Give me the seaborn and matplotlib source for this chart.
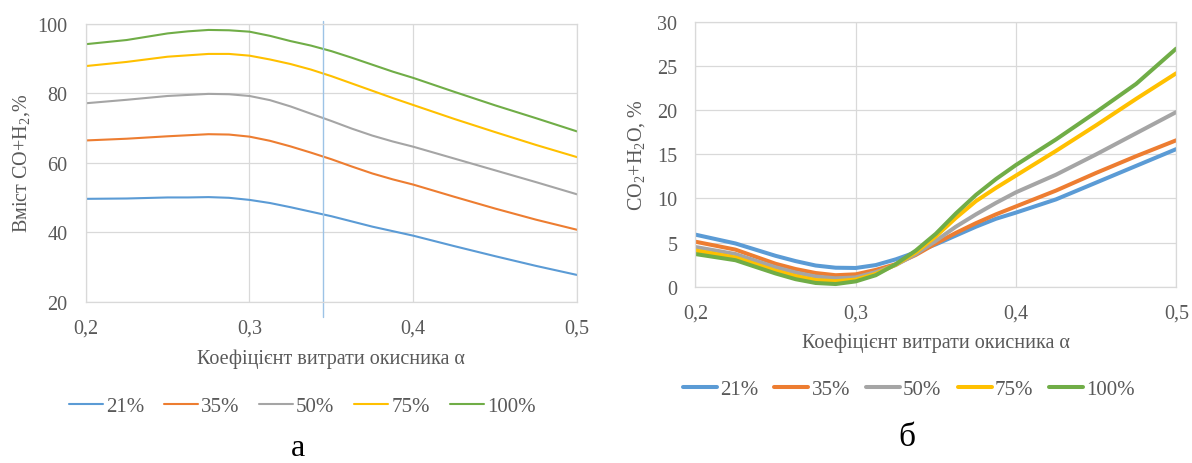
import matplotlib
matplotlib.use("Agg")
import matplotlib.pyplot as plt
import seaborn as sns
import pandas as pd
from matplotlib.lines import Line2D
from matplotlib.ticker import FuncFormatter

# oxidiser consumption coefficient
alpha = [0.2, 0.225, 0.25, 0.2625, 0.275, 0.2875, 0.3, 0.3125, 0.325, 0.3375,
         0.35, 0.3625, 0.375, 0.3875, 0.4, 0.425, 0.45, 0.475, 0.5]
concentrations = ["21%", "35%", "50%", "75%", "100%"]

# (a) CO+H2 content, %
syngas_21 = [49.6, 49.7, 50.0, 50.0, 50.1, 49.9, 49.3, 48.4, 47.2, 45.9,
             44.6, 43.1, 41.6, 40.3, 39.0, 36.0, 33.1, 30.3, 27.7]
syngas_35 = [66.4, 66.9, 67.6, 67.9, 68.2, 68.1, 67.5, 66.3, 64.7, 62.9,
             61.0, 58.9, 56.9, 55.2, 53.7, 50.2, 46.8, 43.6, 40.7]
syngas_50 = [77.1, 78.1, 79.2, 79.5, 79.8, 79.7, 79.2, 78.0, 76.2, 74.1,
             72.0, 69.8, 67.8, 66.1, 64.6, 61.2, 57.8, 54.4, 50.9]
syngas_75 = [87.8, 89.0, 90.5, 90.9, 91.3, 91.3, 90.8, 89.7, 88.4, 86.8,
             84.9, 82.8, 80.7, 78.6, 76.6, 72.6, 68.8, 65.1, 61.6]
syngas_100 = [94.1, 95.3, 97.2, 97.8, 98.2, 98.1, 97.7, 96.5, 95.0, 93.7,
              92.1, 90.2, 88.2, 86.2, 84.4, 80.4, 76.5, 72.8, 69.0]

# (б) CO2+H2O content, %
flue_21 = [5.9, 4.9, 3.5, 2.9, 2.4, 2.15, 2.12, 2.45, 3.1, 3.9,
           4.8, 5.8, 6.8, 7.7, 8.4, 9.9, 11.8, 13.7, 15.6]
flue_35 = [5.1, 4.2, 2.6, 2.0, 1.55, 1.3, 1.4, 1.9, 2.55, 3.6,
           4.9, 6.1, 7.2, 8.2, 9.1, 10.9, 12.9, 14.8, 16.6]
flue_50 = [4.5, 3.7, 2.2, 1.6, 1.15, 0.95, 1.05, 1.65, 2.45, 3.7,
           5.2, 6.8, 8.2, 9.5, 10.7, 12.7, 15.0, 17.4, 19.8]
flue_75 = [4.1, 3.3, 1.8, 1.2, 0.75, 0.62, 0.8, 1.45, 2.5, 3.9,
           5.7, 7.8, 9.7, 11.2, 12.6, 15.4, 18.3, 21.3, 24.2]
flue_100 = [3.7, 3.0, 1.5, 0.85, 0.42, 0.3, 0.6, 1.3, 2.55, 4.1,
            6.0, 8.3, 10.4, 12.2, 13.8, 16.7, 19.8, 23.0, 27.0]

alpha_marker = 0.345
colors = ["#5B9BD5", "#ED7D31", "#A5A5A5", "#FFC000", "#70AD47"]
palette = dict(zip(concentrations, colors))


def to_long(series):
    rows = []
    for conc, vals in zip(concentrations, series):
        for a, v in zip(alpha, vals):
            rows.append({"alpha": a, "value": v, "conc": conc})
    return pd.DataFrame(rows)


df_a = to_long([syngas_21, syngas_35, syngas_50, syngas_75, syngas_100])
df_b = to_long([flue_21, flue_35, flue_50, flue_75, flue_100])

sns.set_theme(style="whitegrid")
plt.rcParams["font.family"] = ["Liberation Serif", "DejaVu Serif"]
plt.rcParams["mathtext.default"] = "regular"
txt = "#595959"
grid = "#D9D9D9"

fig = plt.figure(figsize=(11.92, 4.64), dpi=100)
ax1 = fig.add_axes([0.0719, 0.3476, 0.4122, 0.5992])
ax2 = fig.add_axes([0.5834, 0.3800, 0.4034, 0.5702])

comma = FuncFormatter(lambda v, p: f"{v:.1f}".replace(".", ","))

for ax, df, lw, ylim, yticks in [
    (ax1, df_a, 1.5, (20, 100), [20, 40, 60, 80, 100]),
    (ax2, df_b, 2.9, (0, 30), [0, 5, 10, 15, 20, 25, 30]),
]:
    sns.lineplot(data=df, x="alpha", y="value", hue="conc", palette=palette,
                 linewidth=lw, estimator=None, legend=False, ax=ax)
    ax.set_xlim(0.2, 0.5)
    ax.set_ylim(*ylim)
    ax.set_xticks([0.2, 0.3, 0.4, 0.5])
    ax.set_yticks(yticks)
    ax.xaxis.set_major_formatter(comma)
    ax.grid(True, color=grid, linewidth=0.9)
    for s in ax.spines.values():
        s.set_color(grid)
        s.set_linewidth(0.9)
    ax.tick_params(length=0, labelsize=14.5, colors=txt)
    ax.tick_params(axis="y", pad=13)
    ax.tick_params(axis="x", pad=12)
    ax.set_xlabel("Коефіцієнт витрати окисника α", fontsize=14.5, color=txt)

ax1.set_ylabel("Вміст CO+$H_2$,%", fontsize=14.5, color=txt)
ax2.set_ylabel("CO$_2$+H$_2$O, %", fontsize=14.5, color=txt)
ax1.yaxis.set_label_coords(-0.110, 0.5)
ax2.yaxis.set_label_coords(-0.100, 0.5)
ax1.xaxis.set_label_coords(0.5, -0.167)
ax2.xaxis.set_label_coords(0.5, -0.175)

ax1.axvline(alpha_marker, ymin=-0.055, ymax=1.011, clip_on=False,
            color="#9DC3E6", linewidth=1.0)

for lw, cx, cy, cs in [(1.5, 302, 407, 0.95), (2.9, 909, 390, 0.77)]:
    handles = [Line2D([], [], color=c, linewidth=lw, solid_capstyle="round") for c in colors]
    leg = fig.legend(handles, concentrations, loc="center", ncol=5, frameon=False,
                     bbox_to_anchor=(cx / 1192, 1 - cy / 464), fontsize=15,
                     handlelength=1.63, handletextpad=0.15, columnspacing=cs)
    for t in leg.get_texts():
        t.set_color(txt)

fig.text(298 / 1192, 1 - 456.5 / 464, "а", fontsize=23, ha="center", va="baseline", color="black")
fig.text(907 / 1192, 1 - 438 / 464, "б", fontsize=24, ha="center", va="center", color="black")

fig.savefig("out.png", dpi=100)
